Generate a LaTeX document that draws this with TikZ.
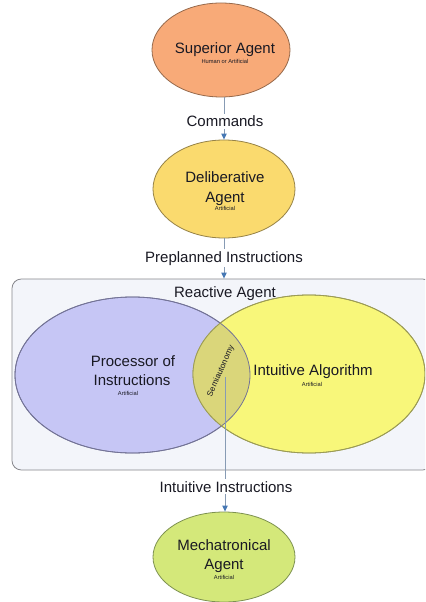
\documentclass[tikz,border=0pt]{standalone}
\usepackage{fontspec}
\setmainfont{Liberation Sans}
\usetikzlibrary{shapes.geometric,arrows.meta}
\definecolor{txtc}{RGB}{25,25,35}
\definecolor{supf}{RGB}{248,170,120}
\definecolor{supd}{RGB}{150,105,75}
\definecolor{delf}{RGB}{250,218,110}
\definecolor{deld}{RGB}{150,130,70}
\definecolor{mecf}{RGB}{212,232,122}
\definecolor{mecd}{RGB}{125,145,80}
\definecolor{lav}{RGB}{198,198,245}
\definecolor{lavd}{RGB}{115,115,150}
\definecolor{yel}{RGB}{248,247,122}
\definecolor{yeld}{RGB}{155,155,85}
\definecolor{ovl}{RGB}{218,214,122}
\definecolor{boxf}{RGB}{243,245,250}
\definecolor{boxd}{RGB}{135,135,140}
\definecolor{linec}{RGB}{135,155,180}
\definecolor{arrc}{RGB}{70,120,180}
\begin{document}
\begin{tikzpicture}[x=0.75pt,y=-0.75pt,
  txt/.style={font=\fontsize{11.25}{13}\selectfont, text=txtc, inner sep=0pt, anchor=base},
  small/.style={font=\fontsize{4.3}{5}\selectfont, text=txtc, inner sep=0pt, anchor=base},
  agent/.style={ellipse, line width=0.6pt, inner sep=0pt},
  conn/.style={draw=linec, line width=0.7pt, -{Triangle[width=4pt,length=4.5pt,color=arrc]}},
  lbl/.style={txt, fill=white, inner sep=1.5pt}]
\useasboundingbox (0,0) rectangle (425,602);
\clip (0,0) rectangle (425,602);
\fill[white] (0,0) rectangle (425,602);

% top agents
\node[agent, fill=supf, draw=supd, minimum width=103.5pt, minimum height=70.5pt] (sup) at (221,50) {};
\node[agent, fill=delf, draw=deld, minimum width=106.5pt, minimum height=73.5pt] (del) at (224,189) {};

% reactive box
\node[draw=boxd, fill=boxf, rounded corners=7pt, line width=0.6pt, inner sep=0pt,
      minimum width=315pt, minimum height=143.25pt] (box) at (222,374.5) {};
\node[txt] (react) at (225,297) {Reactive Agent};

% venn
\node[agent, fill=lav, draw=lavd, minimum width=176.25pt, minimum height=117pt] (proc) at (132.5,375) {};
\node[agent, fill=yel, draw=yeld, minimum width=174pt, minimum height=118.5pt] (intu) at (309,374) {};
\begin{scope}
  \clip (132.5,375) ellipse [x radius=117.5, y radius=78];
  \fill[ovl] (309,374) ellipse [x radius=116, y radius=79];
\end{scope}
\draw[lavd, line width=0.6pt] (132.5,375) ellipse [x radius=117.5, y radius=78];
\draw[yeld, line width=0.6pt] (309,374) ellipse [x radius=116, y radius=79];

% bottom agent
\node[agent, fill=mecf, draw=mecd, minimum width=106.5pt, minimum height=67.5pt] (mech) at (224,557) {};

% connectors
\coordinate (semibase) at (225,377);
\draw[conn] (del.north |- sup.south) -- (del.north);
\draw[conn] (del.south) -- (del.south |- box.north);
\draw[conn] (semibase) -- (semibase |- mech.north);

% labels on connectors
\node[lbl] (cmd) at (225,127) {Commands};
\node[lbl] (pre) at (224,262) {Preplanned Instructions};
\node[lbl] (ii) at (226,492) {Intuitive Instructions};

% semiautonomy
\node[font=\fontsize{6.2}{7}\selectfont, text=txtc, rotate=66, inner sep=0pt] (semi) at (221,371) {Semiautonomy};

% texts
\node[txt] (t1) at (225,54) {Superior Agent};
\node[small] (t1s) at (225,64) {Human or Artificial};
\node[txt] (t2) at (225,183) {Deliberative};
\node[txt] (t2b) at (225,202) {Agent};
\node[small] (t2s) at (225,210) {Artificial};
\node[txt] (t3) at (133,366) {Processor of};
\node[txt] (t3b) at (132,385) {Instructions};
\node[small] (t3s) at (128,395) {Artificial};
\node[txt] (t4) at (313,375) {Intuitive Algorithm};
\node[small] (t4s) at (312,386) {Artificial};
\node[txt] (t5) at (224,550) {Mechatronical};
\node[txt] (t5b) at (224,569) {Agent};
\node[small] (t5s) at (224,579) {Artificial};
\end{tikzpicture}
\end{document}
